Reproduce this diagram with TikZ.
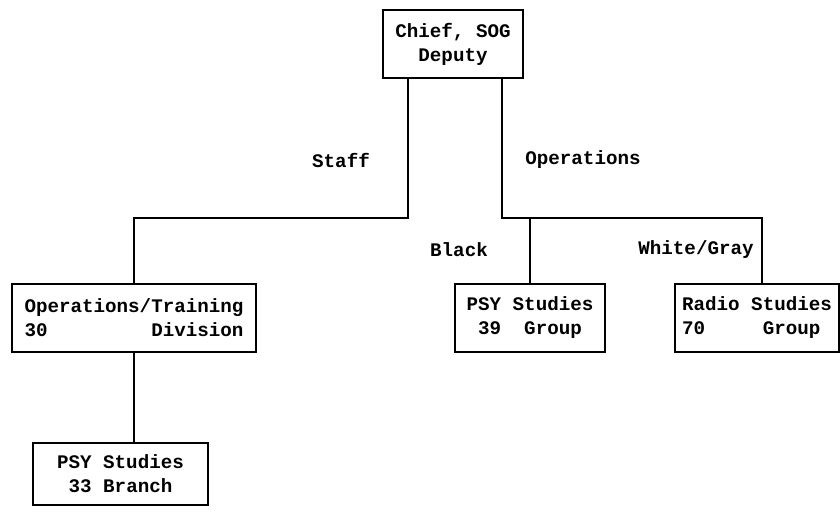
\documentclass[tikz,border=0pt]{standalone}
\usepackage{fontspec}
\setmonofont{Liberation Mono}
\usepackage{tikz}
\usetikzlibrary{positioning}

\begin{document}
\begin{tikzpicture}[
        x=0.5pt, y=-0.5pt,
        font=\ttfamily\bfseries\fontsize{9.6}{12}\selectfont,
        unit/.style={draw, line width=1.1pt, align=center, inner sep=0pt, minimum height=34pt},
        tag/.style={inner sep=0pt},
        line/.style={line width=1pt}
    ]
        \useasboundingbox (0,0) rectangle (840,514);

        \node[unit, minimum width=70pt] (chief) at (453,44) {Chief, SOG\\Deputy};
        \node[unit, minimum width=122pt, align=left] (optrain) at (134,318) {Operations/Training\\30~~~~~~~~~Division};
        \node[unit, minimum width=75pt] (psy39) at (530,318) {PSY Studies\\39~~Group};
        \node[unit, minimum width=82pt, align=left] (radio) at (757,318) {Radio Studies\\70~~~~~Group};
        \node[unit, minimum width=87.5pt, minimum height=31pt] (psy33) at (120.5,474) {PSY Studies\\33 Branch};

        \node[tag] (staff) at (341,160) {Staff};
        \node[tag] (ops) at (583,160) {Operations};
        \node[tag] (black) at (459,250) {Black};
        \node[tag] (white) at (696,250) {White/Gray};

        \draw[line] ([xshift=-22.5pt]chief.south) -- ++(0,139) -| (optrain.north);
        \draw[line] ([xshift=24.5pt]chief.south) -- ++(0,139) coordinate (opsbar) -| ([xshift=2.5pt]radio.north);
        \draw[line] (opsbar -| psy39.north) -- (psy39.north);
        \draw[line] (optrain.south) -- (optrain.south |- psy33.north);
    \end{tikzpicture}
\end{document}
